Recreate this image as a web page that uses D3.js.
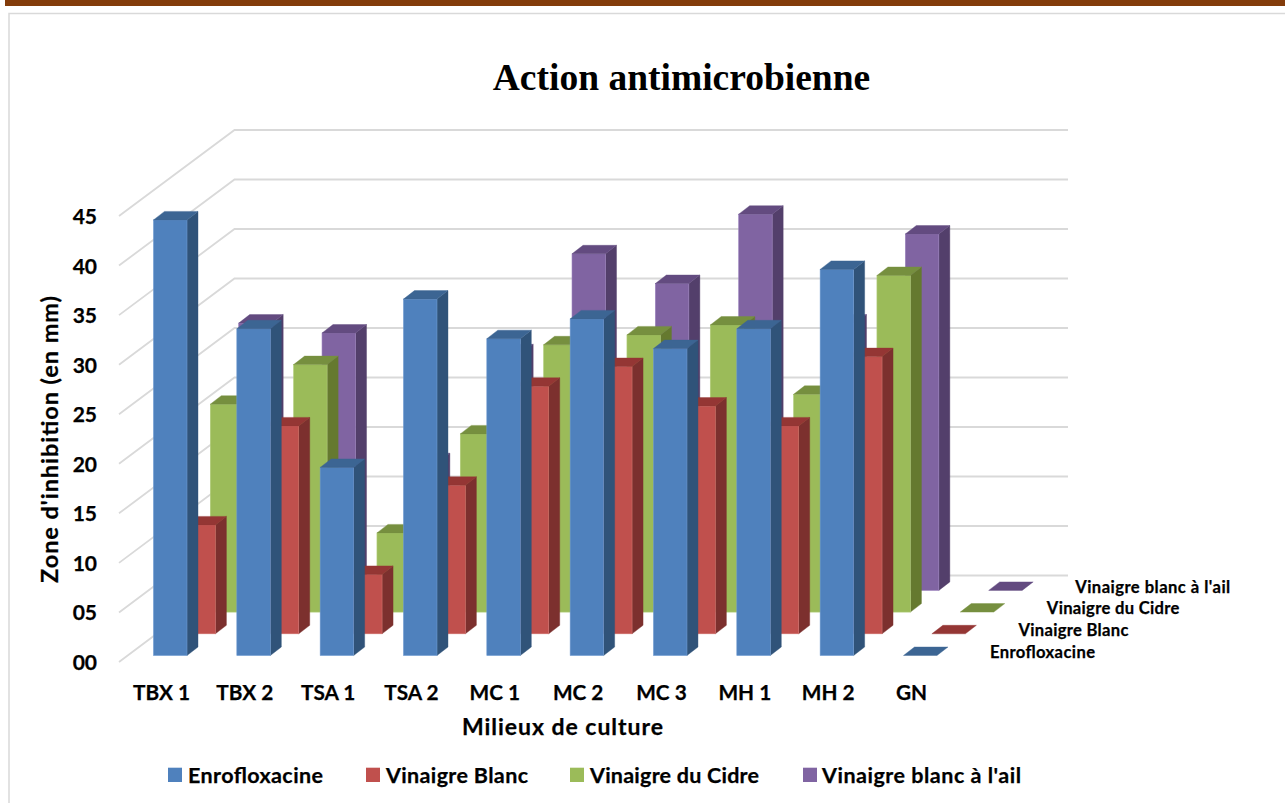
<!DOCTYPE html>
<html><head><meta charset="utf-8">
<style>html,body{margin:0;padding:0;background:#fff;overflow:hidden}svg{display:block}
text{font-family:Lato,"Noto Sans",sans-serif;font-weight:700;fill:#000;stroke:#000;stroke-width:.25}</style>
<script src="https://cdn.jsdelivr.net/npm/d3@7"></script></head><body>
<svg id="c" width="1285" height="803"></svg>
<script>
const categories=["TBX 1","TBX 2","TSA 1","TSA 2","MC 1","MC 2","MC 3","MH 1","MH 2","GN"];
const seriesNames=["Enrofloxacine","Vinaigre Blanc","Vinaigre du Cidre","Vinaigre blanc à l'ail"];
const enrofloxacine=[44,33,19,36,32,34,31,33,39,0];
const vinaigreBlanc=[11,21,6,15,25,27,23,21,28,0];
const vinaigreCidre=[21,25,8,18,27,28,29,22,34,0];
const vinaigreAil=[27,26,13,24,34,31,38,27,36,0];
const seriesValues=[enrofloxacine,vinaigreBlanc,vinaigreCidre,vinaigreAil];
const yTicks=[0,5,10,15,20,25,30,35,40,45];
const tickLabels=["00","05","10","15","20","25","30","35","40","45"];
const faceColors=["#4f81bd","#c0504d","#9bbb59","#8064a2"];
const sideColors=["#305379","#7c302e","#65792f","#533f6b"];
const topColors=["#3c6593","#943634","#768f3f","#634b80"];
const edgeColors=["#6f9ad0","#d0706d","#b0cc78","#9a80bd"];

const svg=d3.select("#c");
const x=d3.scaleLinear().domain([0,categories.length]).range([153.5,153.5+83.33*categories.length]);
const depthX=d3.scaleLinear().domain([0,4]).range([0,113.6]);
const depthY=d3.scaleLinear().domain([0,4]).range([655.5,568.7]);
const yLen=d3.scaleLinear().domain([0,45]).range([0,445.5]);
const wallY=d3.scaleLinear().domain([0,45]).range([575.5,130]);
const sideY=d3.scaleLinear().domain([0,45]).range([662,216]);
const barW=33.5,sd=11,st=8.5;

// frame
svg.append("rect").attr("x",5).attr("y",0).attr("width",1280).attr("height",6).attr("fill","#833c0b");
svg.append("path").attr("d","M9,803V13.5H1285").attr("fill","none").attr("stroke","#d9d9d9").attr("stroke-width",1.5);

// gridlines
svg.append("g").selectAll("path").data(yTicks).join("path")
 .attr("d",d=>`M119,${sideY(d)}L234.5,${wallY(d)}H1068`)
 .attr("fill","none").attr("stroke","#d9d9d9").attr("stroke-width",1.8);

// bars, back row first
const rows=d3.range(seriesValues.length).reverse();
rows.forEach(s=>{
 const g=svg.append("g");
 const vals=seriesValues[s].map((v,i)=>({v,i})).reverse();
 vals.forEach(({v,i})=>{
  const x0=x(i)+depthX(s),x1=x0+barW,yb=depthY(s),yt=yb-yLen(v);
  const poly=(pts,f)=>g.append("polygon").attr("points",pts.map(p=>p.join(",")).join(" ")).attr("fill",f).attr("stroke",f).attr("stroke-width",.4);
  if(v>0){
   poly([[x1,yb],[x1+sd,yb-st],[x1+sd,yt-st],[x1,yt]],sideColors[s]);
   g.append("rect").attr("x",x0).attr("y",yt).attr("width",barW).attr("height",yLen(v)).attr("fill",faceColors[s]).attr("stroke",edgeColors[s]).attr("stroke-width",.6);
  }
  poly([[x0,yt],[x1,yt],[x1+sd,yt-st],[x0+sd,yt-st]],topColors[s]);
 });
});

// y tick labels
svg.append("g").selectAll("text").data(yTicks).join("text")
 .attr("x",97).attr("y",d=>sideY(d)+8).attr("text-anchor","end").attr("font-size",21)
 .text((d,i)=>tickLabels[i]);
// category labels
svg.append("g").selectAll("text").data(categories).join("text")
 .attr("x",(d,i)=>x(i)+8).attr("y",700).attr("text-anchor","middle").attr("font-size",20.8).text(d=>d);
// depth labels
const depthLabelY=[658,636,614.3,593];
const depthLabelW=[105,110,132.5,155];
svg.append("g").selectAll("text").data(seriesNames).join("text")
 .attr("x",(d,i)=>990+depthX(i)).attr("y",(d,i)=>depthLabelY[i]).attr("font-size",16.6)
 .attr("textLength",(d,i)=>depthLabelW[i]).attr("lengthAdjust","spacing").text(d=>d);
// titles
svg.append("text").attr("x",681.5).attr("y",89.5).attr("text-anchor","middle").attr("font-size",37.5)
 .style("font-family","'Liberation Serif',serif").style("stroke-width",0).text("Action antimicrobienne");
svg.append("text").attr("x",562.5).attr("y",735).attr("text-anchor","middle").attr("font-size",23)
 .attr("textLength",201).attr("lengthAdjust","spacing").text("Milieux de culture");
svg.append("text").attr("transform","translate(58,439.5) rotate(-90)").attr("text-anchor","middle").attr("font-size",23.5)
 .attr("textLength",287).attr("lengthAdjust","spacing").text("Zone d'inhibition (en mm)");
// legend
const legendX=[168,366,570,803];
const legendW=[135,142,169,199];
const lg=svg.append("g").selectAll("g").data(seriesNames).join("g").attr("transform",(d,i)=>`translate(${legendX[i]},0)`);
lg.append("rect").attr("y",767.7).attr("width",14).attr("height",14.3).attr("fill",(d,i)=>faceColors[i]);
lg.append("text").attr("x",(d,i)=>i==3?19:20).attr("y",783).attr("font-size",21.5)
 .attr("textLength",(d,i)=>legendW[i]).attr("lengthAdjust","spacing").text(d=>d);
</script></body></html>
